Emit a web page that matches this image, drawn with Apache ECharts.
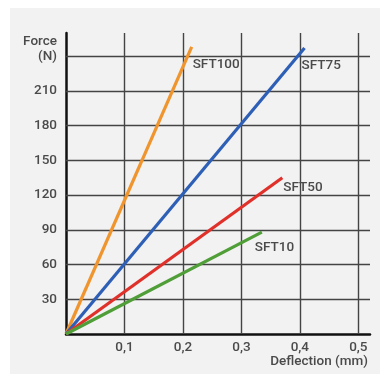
<!DOCTYPE html>
<html><head><meta charset="utf-8">
<script src="https://cdn.jsdelivr.net/npm/echarts@6/dist/echarts.min.js"></script>
<style>
html,body{margin:0;padding:0;background:#ffffff;}
#panel{position:absolute;left:10px;top:8px;width:370px;height:366px;background:#f2f2f2;}
#chart{position:absolute;left:0;top:0;width:380px;height:374px;}
</style></head>
<body><div id="panel"></div><div id="chart"></div>
<script>
// Data
const seriesNames = ['SFT100', 'SFT75', 'SFT50', 'SFT10'];
const startX = [0, 0, 0, 0];
const startY = [0, 0, 0, 0];
const endX = [0.215, 0.408, 0.37, 0.335];
const endY = [248, 247, 135, 88];
const colors = ['#f0952e', '#2e5fb6', '#e0302a', '#4f9e38'];
const xTicks = [0.1, 0.2, 0.3, 0.4, 0.5];
const yTicks = [30, 60, 90, 120, 150, 180, 210, 240];
const yTopLabel = '(N)';
const yName = 'Force';
const xName = 'Deflection (mm)';
const labelOffsets = [[1, 18], [-3, 18], [1, 10], [-7, 16]];

const font = "'Roboto', 'Liberation Sans', sans-serif";
const txt = '#4a4a4a';
const fs = 13.5;
const fw = 500;

const chart = echarts.init(document.getElementById('chart'), null, {renderer: 'canvas'});

const series = seriesNames.map((n, i) => ({
  name: n,
  type: 'line',
  z: 5,
  showSymbol: false,
  symbol: 'none',
  lineStyle: {color: colors[i], width: 3.2},
  data: [[startX[i], startY[i]], [endX[i], endY[i]]],
  endLabel: {show: true, formatter: n, distance: 0, offset: labelOffsets[i],
    color: txt, fontFamily: font, fontSize: fs, fontWeight: fw}
}));

series.unshift({
  type: 'line',
  z: 1,
  data: [[0, 0]],
  showSymbol: false,
  lineStyle: {opacity: 0},
  silent: true,
  markLine: {
    silent: true,
    symbol: 'none',
    label: {show: false},
    lineStyle: {color: '#444', width: 1.4, type: 'solid'},
    data: xTicks.map(v => ({xAxis: v})).concat(yTicks.map(v => ({yAxis: v})))
  }
});

chart.setOption({
  animation: false,
  backgroundColor: 'transparent',
  grid: {left: 66, right: 10, top: 33, bottom: 40},
  xAxis: {
    type: 'value', min: 0, max: 0.52, interval: 0.1,
    name: xName, nameLocation: 'end', nameGap: 0,
    nameTextStyle: {align: 'right', verticalAlign: 'top', padding: [21, 2, 0, 0], color: txt, fontFamily: font, fontSize: fs, fontWeight: fw},
    axisLine: {lineStyle: {color: '#111', width: 2.5}},
    axisTick: {show: false},
    splitLine: {show: false},
    axisLabel: {
      showMinLabel: false, showMaxLabel: false, margin: 7,
      color: txt, fontFamily: font, fontSize: fs, fontWeight: fw,
      formatter: v => (v > 0 && v <= 0.5 + 1e-9) ? v.toFixed(1).replace('.', ',') : ''
    }
  },
  yAxis: {
    type: 'value', min: 0, max: 260, interval: 30,
    name: yName, nameLocation: 'end', nameGap: -9,
    nameTextStyle: {align: 'right', verticalAlign: 'middle', padding: [0, 9, 0, 0], color: txt, fontFamily: font, fontSize: fs, fontWeight: fw},
    axisLine: {show: true, lineStyle: {color: '#111', width: 2.5}},
    axisTick: {show: false},
    splitLine: {show: false},
    axisLabel: {
      showMinLabel: false, showMaxLabel: false, margin: 9,
      color: txt, fontFamily: font, fontSize: fs, fontWeight: fw,
      formatter: v => v === 240 ? yTopLabel : (v > 0 && v < 240 ? String(v) : '')
    }
  },
  series: series
});
</script></body></html>
